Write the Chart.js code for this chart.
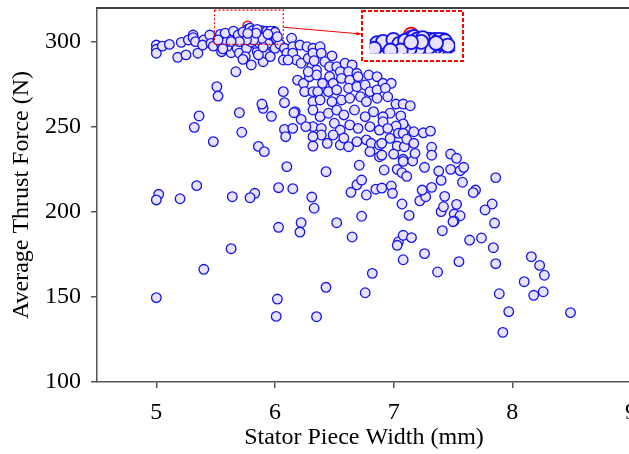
<!DOCTYPE html>
<html lang="en">
<head>
<meta charset="UTF-8">
<title>Average Thrust Force vs Stator Piece Width</title>
<script src="https://cdn.jsdelivr.net/npm/chart.js@4.4.0/dist/chart.umd.min.js"></script>
<style>
  html, body { margin: 0; padding: 0; background: #fff; overflow: hidden; }
  .wrap { position: relative; width: 629px; height: 454px; overflow: hidden; }
  #main { position: absolute; left: 0; top: 0; }
  #inset { position: absolute; left: 361px; top: 10px; }
</style>
</head>
<body>
<div class="wrap">
  <canvas id="main" width="680" height="454"></canvas>
  <canvas id="inset" width="103" height="52"></canvas>
</div>
<script>
// stator piece width (mm) of each design sample
const widthMm = [
  // upper band
  5.00,5.00,5.00,5.05,5.11,5.18,5.25,5.21,5.27,5.31,
  5.31,5.35,5.33,5.40,5.39,5.45,5.46,5.48,5.54,5.55,
  5.55,5.51,5.52,5.61,5.63,5.61,5.63,5.60,5.67,5.70,
  5.72,5.68,5.70,5.77,5.79,5.77,5.76,5.75,5.80,5.83,
  5.84,5.85,5.83,5.87,5.89,5.90,5.90,5.92,5.94,5.93,
  5.99,5.97,6.01,6.00,5.96,5.90,6.04,6.08,6.10,6.07,
  6.14,6.15,6.15,6.18,6.19,6.07,6.08,5.73,5.86,5.90,
  5.80,5.58,5.56,
  5.54,5.58,5.65,5.69,5.73,5.79,5.81,5.85,5.96,6.00,
  6.02,5.89,5.82,5.76,5.70,5.63,5.94,5.84,5.77,5.52,
  // main cluster
  6.21,6.27,6.32,6.38,6.22,6.11,6.28,6.32,6.39,6.48,
  6.31,6.35,6.42,6.46,6.52,6.59,6.65,6.55,6.62,6.69,
  6.46,6.24,6.29,6.35,6.40,6.49,6.56,6.63,6.70,6.79,
  6.86,6.91,6.98,6.25,6.32,6.36,6.45,6.52,6.62,6.69,
  6.76,6.80,6.86,6.93,6.32,6.38,6.48,6.56,6.63,6.72,
  6.77,6.86,6.95,6.17,6.32,6.38,6.45,6.52,6.58,6.67,
  6.76,6.83,6.97,6.32,6.39,6.50,6.55,6.63,6.70,6.80,
  6.88,7.10,7.17,6.33,6.28,
  6.55,6.62,6.69,6.77,6.81,6.88,6.88,6.80,6.49,6.58,6.39,6.44,
  7.02,7.08,7.14,6.91,6.91,7.06,7.08,7.02,6.95,7.04,
  7.08,6.97,7.03,7.09,7.11,7.17,6.90,6.90,7.00,7.08,
  7.08,7.16,7.18,7.25,7.31,7.32,7.32,7.48,7.53,
  // right tail
  7.86,7.69,7.67,7.83,7.77,7.85,7.64,7.74,7.84,7.86,
  7.55,8.16,8.23,8.27,8.10,8.18,8.26,7.89,7.97,7.92,
  8.49,7.37,7.26,7.08,7.04,7.03,7.08,7.15,7.41,6.82,
  6.76,6.65,6.52,6.73,6.64,6.69,6.73,6.77,6.85,6.90,
  6.98,6.99,7.07,7.13,7.22,7.27,7.24,7.32,7.43,7.40,
  7.42,7.53,7.51,7.56,7.51,7.50,7.58,7.56,7.59,7.38,
  7.40,7.26,7.48,6.92,6.71,7.03,7.07,7.11,
  // left scatter
  5.36,5.32,5.70,5.72,5.48,5.97,5.89,5.86,5.91,6.16,
  6.22,6.26,6.08,6.09,6.15,6.32,6.32,6.10,6.43,5.34,
  5.02,5.00,5.20,5.64,5.83,5.79,6.03,6.15,6.31,6.33,
  6.03,6.22,6.21,5.63,5.40,5.00,6.02,6.01,6.35,6.43
];

// average thrust force (N), same order as widthMm
const thrustN = [
  298.2,295.7,293.4,297.6,298.6,291.0,292.4,299.8,301.2,304.1,
  302.5,293.4,300.2,301.2,298.2,304.1,299.2,297.6,303.1,298.2,
  294.3,273.7,268.2,304.4,304.6,301.6,293.7,297.6,282.5,304.8,
  299.2,296.3,293.4,307.6,304.1,300.2,296.3,291.4,286.5,305.9,
  303.1,294.3,299.2,299.2,306.6,304.1,288.4,293.4,299.2,306.4,
  306.3,304.1,302.2,296.3,291.4,261.0,298.8,296.3,293.4,289.4,
  302.2,297.2,293.4,289.4,277.6,270.8,264.3,289.8,292.4,297.0,
  300.0,300.0,296.0,
  304.5,305.2,306.4,304.1,305.8,308.1,306.6,307.4,306.4,305.7,
  303.1,302.2,301.2,301.2,300.2,300.2,304.6,305.2,305.1,301.2,
  298.2,297.2,296.3,297.2,287.5,289.4,290.4,293.4,293.4,291.8,
  285.5,283.5,288.4,285.5,285.5,287.5,286.5,282.5,282.5,281.6,
  279.6,275.7,279.6,280.6,275.7,275.7,278.6,277.6,279.6,280.6,
  279.6,275.7,275.7,270.8,270.8,270.8,270.8,271.8,272.8,273.7,
  274.7,270.8,271.8,272.8,264.9,265.9,264.9,265.9,266.9,267.8,
  264.9,266.9,267.8,259.0,260.0,256.1,258.1,260.0,257.1,260.0,
  256.1,259.0,258.1,250.2,249.2,252.2,248.2,251.2,249.2,250.2,
  248.2,249.2,247.2,289.0,282.5,
  239.4,238.4,241.4,242.4,240.4,239.4,232.5,235.5,245.3,243.5,245.3,240.4,
  263.5,263.5,262.5,256.0,253.1,256.5,251.8,250.6,249.2,246.3,
  246.3,243.3,238.8,238.4,242.8,240.4,240.4,233.5,234.1,231.0,
  229.8,230.0,234.5,246.6,247.6,238.1,233.4,234.1,231.6,
  220.2,212.9,211.4,204.7,201.2,193.5,183.5,184.7,179.0,169.6,
  170.8,173.7,168.6,162.8,159.0,151.0,153.1,151.9,141.4,129.2,
  140.8,164.7,175.5,171.9,182.5,180.4,186.3,184.9,189.0,163.9,
  152.5,185.3,193.7,197.5,211.6,216.0,218.8,210.0,213.4,214.1,
  215.3,211.0,204.7,198.0,206.6,209.0,212.9,214.5,209.2,200.2,
  203.1,204.5,198.8,197.8,194.7,194.3,217.5,224.3,226.3,224.1,
  218.6,226.3,225.1,224.7,227.5,225.1,223.1,221.0,
  256.5,249.8,258.4,246.9,241.4,256.3,263.5,238.6,235.5,258.4,
  254.5,250.2,248.6,244.3,249.2,244.3,238.8,226.7,223.7,215.5,
  210.4,207.1,207.8,209.0,211.0,208.4,214.3,213.7,208.8,202.2,
  191.0,193.7,188.2,178.4,166.3,149.6,148.8,138.6,138.4,155.7
];

// best design, drawn in red
const peakWidth = [5.77];
const peakThrust = [309.5];

const xTicks = [5, 6, 7, 8, 9];
const yTicks = [100, 150, 200, 250, 300];

// data window shown enlarged in the inset
const zoomX = [5.49, 6.07];
const zoomY = [298.6, 318.8];

const points = widthMm.map((x, i) => ({ x: x, y: thrustN[i] }));
const peak = peakWidth.map((x, i) => ({ x: x, y: peakThrust[i] }));

const fill = '#e8e2fc';
const edge = '#1414ee';
const insetBox = { left: 361, top: 10, width: 103, height: 52 };

Chart.defaults.font.family = "'Liberation Serif', 'Times New Roman', serif";
Chart.defaults.color = '#000';

const frame = {
  id: 'frame',
  afterDatasetsDraw(chart) {
    const { ctx, chartArea: a, scales: { x, y } } = chart;
    ctx.save();
    ctx.strokeStyle = '#000';
    ctx.lineWidth = 1.5;
    ctx.beginPath();
    ctx.moveTo(a.left, a.top);
    ctx.lineTo(a.right + 20, a.top);
    ctx.stroke();

    const x0 = x.getPixelForValue(zoomX[0]), x1 = x.getPixelForValue(zoomX[1]);
    const y0 = y.getPixelForValue(zoomY[1]), y1 = y.getPixelForValue(zoomY[0]);
    ctx.strokeStyle = '#ff0000';
    ctx.lineWidth = 1.2;
    ctx.setLineDash([2, 2]);
    ctx.strokeRect(x0, y0, x1 - x0, y1 - y0);
    ctx.setLineDash([]);

    // connector arrow to the inset
    const sx = x1, sy = (y0 + y1) / 2;
    const ex = insetBox.left, ey = insetBox.top + 24;
    const ang = Math.atan2(ey - sy, ex - sx);
    ctx.lineWidth = 1;
    ctx.beginPath();
    ctx.moveTo(sx, sy);
    ctx.lineTo(ex, ey);
    ctx.stroke();
    ctx.fillStyle = '#ff0000';
    ctx.beginPath();
    ctx.moveTo(ex, ey);
    ctx.lineTo(ex - 5 * Math.cos(ang - 0.4), ey - 5 * Math.sin(ang - 0.4));
    ctx.lineTo(ex - 5 * Math.cos(ang + 0.4), ey - 5 * Math.sin(ang + 0.4));
    ctx.closePath();
    ctx.fill();
    ctx.restore();
  }
};

new Chart(document.getElementById('main'), {
  type: 'scatter',
  data: {
    datasets: [
      { data: points, backgroundColor: fill, borderColor: edge, borderWidth: 1.3, pointRadius: 4.8 },
      { data: peak, backgroundColor: fill, borderColor: '#ff0000', borderWidth: 1.3, pointRadius: 4.8 }
    ]
  },
  options: {
    responsive: false,
    animation: false,
    layout: { padding: { top: 8, right: 49, left: 0, bottom: 0 } },
    plugins: { legend: { display: false }, tooltip: { enabled: false } },
    scales: {
      x: {
        type: 'linear', min: 4.5, max: 9,
        afterBuildTicks: s => { s.ticks = xTicks.map(v => ({ value: v })); },
        afterFit: s => { s.height = 72; s.paddingLeft = 0; s.paddingRight = 0; },
        ticks: { color: '#000', font: { size: 24 }, padding: 10 },
        grid: { drawOnChartArea: false, tickLength: 6, color: '#555', lineWidth: 1.5 },
        border: { color: '#555', width: 1.5 },
        title: { display: true, text: 'Stator Piece Width (mm)', color: '#000', font: { size: 24 }, padding: { top: 0, bottom: 2 } }
      },
      y: {
        type: 'linear', min: 100, max: 320,
        afterBuildTicks: s => { s.ticks = yTicks.map(v => ({ value: v })); },
        afterFit: s => { s.width = 97; s.paddingTop = 0; s.paddingBottom = 0; },
        ticks: { color: '#000', font: { size: 24 }, padding: 10 },
        grid: { drawOnChartArea: false, tickLength: 6, color: '#555', lineWidth: 1.5 },
        border: { color: '#555', width: 1.5 },
        title: { display: true, text: 'Average Thrust Force (N)', color: '#000', font: { size: 24 }, padding: { top: 7, bottom: 0 } }
      }
    }
  },
  plugins: [frame]
});

const insetFrame = {
  id: 'insetFrame',
  afterDraw(chart) {
    const ctx = chart.ctx;
    ctx.save();
    ctx.strokeStyle = '#ff0000';
    ctx.lineWidth = 2;
    ctx.setLineDash([4, 2]);
    ctx.strokeRect(1, 1, chart.width - 2, chart.height - 2);
    ctx.restore();
  }
};

new Chart(document.getElementById('inset'), {
  type: 'scatter',
  data: {
    datasets: [
      { data: points, backgroundColor: fill, borderColor: edge, borderWidth: 1.8, pointRadius: 7, clip: 0 },
      { data: peak, backgroundColor: fill, borderColor: '#ff0000', borderWidth: 1.8, pointRadius: 7, clip: 0 }
    ]
  },
  options: {
    responsive: false,
    animation: false,
    layout: { padding: 0 },
    plugins: { legend: { display: false }, tooltip: { enabled: false } },
    scales: {
      x: { display: false, min: zoomX[0], max: zoomX[1] },
      y: { display: false, min: zoomY[0], max: zoomY[1] }
    }
  },
  plugins: [insetFrame]
});
</script>
</body>
</html>
